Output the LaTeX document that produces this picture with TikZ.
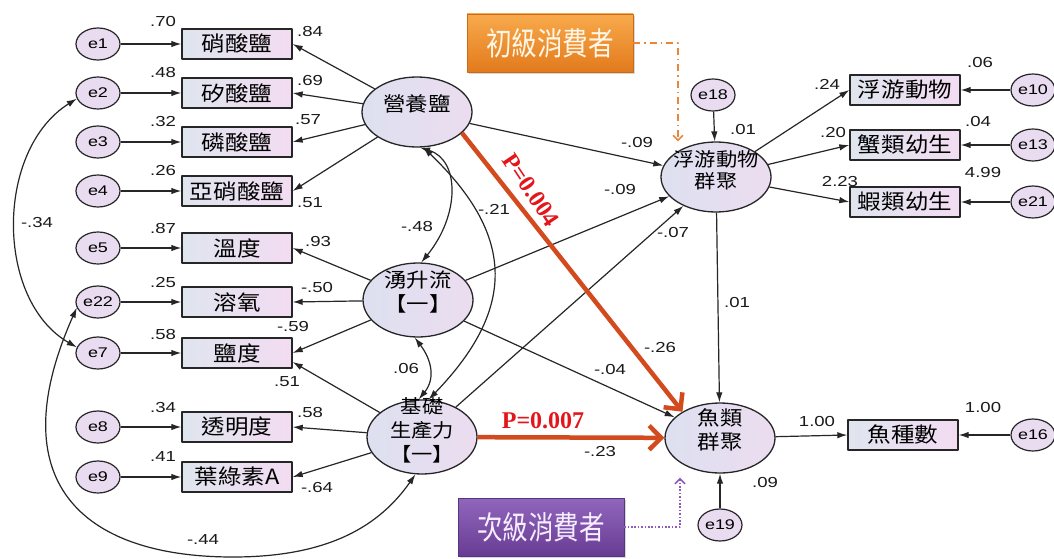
\documentclass[tikz,border=0pt]{standalone}
\usepackage{fontspec}
\setmainfont{Liberation Sans}[FakeStretch=1.28]
\newfontfamily\cjk{Noto Sans CJK TC}[FakeStretch=1.12]
\newfontfamily\cjkb{Noto Sans CJK TC}[FakeStretch=0.8]
\newfontfamily\pfont{Liberation Serif}
\usetikzlibrary{arrows.meta,shapes.geometric,shadows}
\definecolor{lineC}{HTML}{262626}
\definecolor{labC}{HTML}{1A1A1A}
\definecolor{errF}{HTML}{EADCF0}
\definecolor{boxL}{HTML}{DFE5EE}
\definecolor{boxR}{HTML}{F3DCF2}
\definecolor{latL}{HTML}{DDE0F0}
\definecolor{latR}{HTML}{ECDDF0}
\definecolor{sigC}{HTML}{D24A1E}
\definecolor{pC}{HTML}{E3161B}
\definecolor{orT}{HTML}{F8AA4C}
\definecolor{orB}{HTML}{E27A1C}
\definecolor{orD}{HTML}{C96A18}
\definecolor{orL}{HTML}{E8873A}
\definecolor{orTx}{HTML}{FFF6E6}
\definecolor{puT}{HTML}{9066BC}
\definecolor{puB}{HTML}{693C94}
\definecolor{puD}{HTML}{5A3480}
\definecolor{puL}{HTML}{8A5CC0}
\definecolor{puTx}{HTML}{F6EEFF}
\newcommand{\ctext}[1]{\smash{\makebox[0pt]{\begin{tabular}{@{}c@{}}#1\end{tabular}}}}
\begin{document}
\begin{tikzpicture}[x=1pt,y=-1pt,line join=round,
  err/.style={ellipse,draw=lineC,line width=1.2pt,fill=errF,minimum width=44pt,minimum height=32pt,inner sep=0pt,font=\fontsize{14}{14}\selectfont},
  obs/.style={rectangle,draw=lineC,line width=1.4pt,left color=boxL,right color=boxR,minimum width=110pt,minimum height=30pt,inner sep=0pt,font=\cjk\fontsize{21}{21}\selectfont},
  lat/.style={ellipse,draw=lineC,line width=1.3pt,left color=latL,right color=latR,minimum width=110pt,minimum height=70pt,inner sep=0pt,font=\cjk\fontsize{20}{23}\selectfont},
  arr/.style={draw=lineC,line width=1.2pt,-{Latex[length=10pt,width=6.5pt]}},
  cov/.style={draw=lineC,line width=1.2pt,{Latex[length=10pt,width=6.5pt]}-{Latex[length=10pt,width=6.5pt]}},
  lab/.style={font=\fontsize{14.5}{14.5}\selectfont,text=labC,inner sep=0pt},
  sig/.style={draw=sigC,line width=4.5pt,-{Straight Barb[length=12pt,width=24pt]}},
  ptext/.style={font=\pfont\bfseries\fontsize{24}{24}\selectfont,text=pC,inner sep=0pt},
  cons/.style={rectangle,minimum width=166pt,minimum height=58pt,inner sep=0pt,font=\cjkb\fontsize{32}{32}\selectfont,drop shadow={opacity=0.3,shadow xshift=2pt,shadow yshift=-2pt}},
  odash/.style={draw=orL,line width=1.5pt,dash pattern=on 7pt off 4pt on 1.5pt off 4pt,-{Straight Barb[length=5pt,width=10pt]}},
  pdot/.style={draw=puL,line width=1.6pt,dash pattern=on 1.6pt off 1.8pt,-{Straight Barb[length=5pt,width=10pt]}}
]
\fill[white,use as bounding box] (0,0) rectangle (1054,559);

% error terms left
\node[err] (e1) at (98,44) {e1};
\node[err] (e2) at (98,93) {e2};
\node[err] (e3) at (98,142) {e3};
\node[err] (e4) at (98,191) {e4};
\node[err] (e5) at (98,248) {e5};
\node[err] (e22) at (98,302) {e22};
\node[err] (e7) at (98,353) {e7};
\node[err] (e8) at (98,427) {e8};
\node[err] (e9) at (98,477) {e9};

% observed boxes left
\node[obs] (b1) at (237,44) {硝酸鹽};
\node[obs] (b2) at (237,93) {矽酸鹽};
\node[obs] (b3) at (237,142) {磷酸鹽};
\node[obs] (b4) at (237,191) {亞硝酸鹽};
\node[obs] (b5) at (237,248) {溫度};
\node[obs] (b6) at (237,302) {溶氧};
\node[obs] (b7) at (237,353) {鹽度};
\node[obs] (b8) at (237,427) {透明度};
\node[obs] (b9) at (237,477) {葉綠素A};

% latent
\node[lat] (yy) at (417,112) {\ctext{營養鹽}};
\node[lat,minimum height=74pt] (up) at (418,300) {\ctext{湧升流\\【一】}};
\node[lat,minimum height=74pt,font=\cjk\fontsize{19}{24}\selectfont] (pp) at (422,437) {\ctext{基礎\\生產力\\【一】}};
\node[lat,font=\cjk\fontsize{19}{21}\selectfont] (zoo) at (716,177) {\ctext{浮游動物\\群聚}};
\node[lat] (fish) at (720,438) {\ctext{魚類\\群聚}};
\node[err] (e18) at (713,95) {e18};
\node[err] (e19) at (720,525) {e19};

% right boxes
\node[obs] (r1) at (905,90) {浮游動物};
\node[obs] (r2) at (905,145) {蟹類幼生};
\node[obs] (r3) at (905,202) {蝦類幼生};
\node[obs] (fs) at (903,435) {魚種數};
\node[err] (e10) at (1033,90) {e10};
\node[err] (e13) at (1033,145) {e13};
\node[err] (e21) at (1033,202) {e21};
\node[err] (e16) at (1033,435) {e16};

% consumer boxes
\node[cons,draw=orD,top color=orT,bottom color=orB,text=orTx] (ob) at (550,43) {初級消費者};
\node[cons,draw=puD,top color=puT,bottom color=puB,text=puTx] (pb) at (541,527) {次級消費者};

% error arrows
\foreach \e/\b in {e1/b1,e2/b2,e3/b3,e4/b4,e5/b5,e22/b6,e7/b7,e8/b8,e9/b9,e10/r1,e13/r2,e21/r3,e16/fs}
  \draw[arr] (\e) -- (\b);
\draw[arr] (e18) -- (zoo);
\draw[arr] (e19) -- (fish);

% loadings
\draw[arr] (yy) -- (b1.east);
\draw[arr] (yy) -- (b2.east);
\draw[arr] (yy) -- (b3.east);
\draw[arr] (yy) -- (b4.east);
\draw[arr] (up) -- (b5.east);
\draw[arr] (up) -- (b6.east);
\draw[arr] (up) -- (b7.east);
\draw[arr] (pp) -- ([yshift=-9pt]b7.east);
\draw[arr] (pp) -- (b8.east);
\draw[arr] (pp) -- (b9.east);
\draw[arr] (zoo) -- (r1.west);
\draw[arr] (zoo) -- (r2.west);
\draw[arr] (zoo) -- (r3.west);
\draw[arr] (fish) -- (fs.west);

% structural paths
\draw[arr] (yy) -- (zoo);
\draw[arr] (up) -- (zoo);
\draw[arr] (pp) -- (zoo);
\draw[arr] (up) -- (fish);
\draw[arr] (zoo) -- (fish);

% covariances
\draw[cov] (yy.-85) .. controls (460,160) and (460,215) .. (up.85);
\draw[cov] (yy.-80) .. controls (517,237) and (515,310) .. (pp.80);
\draw[cov] (up.-95) .. controls (431,359) and (436,378) .. (pp.95);
\draw[cov] (e2.195) .. controls (-5,150) and (-5,300) .. (e7.165);
\coordinate (low) at (233,557);
\draw[cov] (e22.195) .. controls (0,480) and (80,557) .. (low) .. controls (330,557) and (380,525) .. (pp.-100);

% significant paths
\draw[sig] (yy.-25) -- (fish.145);
\draw[sig] (pp) -- (fish);
\node[ptext,rotate=-56] (p1) at (531,190) {P=0.004};
\node[ptext] (p2) at (543,421) {P=0.007};

% consumer connectors
\coordinate (oc) at (678,43);
\draw[odash] (ob.east) -- (oc) -- (oc |- zoo.north);
\coordinate (pc) at (680,527);
\draw[pdot,shorten >=4pt] (pb.east) -- (pc) -- (pc |- fish.south);

% labels left
\node[lab] (l1) at (163,22) {.70};
\node[lab] (l2) at (163,73) {.48};
\node[lab] (l3) at (163,122) {.32};
\node[lab] (l4) at (163,171) {.26};
\node[lab] (l5) at (163,229) {.87};
\node[lab] (l6) at (163,283) {.25};
\node[lab] (l7) at (163,335) {.58};
\node[lab] (l8) at (163,408) {.34};
\node[lab] (l9) at (163,457) {.41};
\node[lab] (m1) at (310,32) {.84};
\node[lab] (m2) at (310,81) {.69};
\node[lab] (m3) at (308,120) {.57};
\node[lab] (m4) at (310,203) {.51};
\node[lab] (m5) at (318,242) {.93};
\node[lab] (m6) at (317,288) {-.50};
\node[lab] (m7) at (293,327) {-.59};
\node[lab] (m8) at (287,382) {.51};
\node[lab] (m9) at (310,413) {.58};
\node[lab] (m10) at (317,488) {-.64};
\node[lab] (c1) at (37,223) {-.34};
\node[lab] (c2) at (203,540) {-.44};
\node[lab] (c3) at (417,227) {-.48};
\node[lab] (c4) at (494,209) {-.21};
\node[lab] (c5) at (406,369) {.06};
% labels middle/right
\node[lab] (s1) at (637,143) {-.09};
\node[lab] (s2) at (620,190) {-.09};
\node[lab] (s3) at (673,233) {-.07};
\node[lab] (s4) at (743,130) {.01};
\node[lab] (s5) at (610,370) {-.04};
\node[lab] (s6) at (660,348) {-.26};
\node[lab] (s7) at (600,452) {-.23};
\node[lab] (s8) at (737,303) {.01};
\node[lab] (s9) at (817,422) {1.00};
\node[lab] (s10) at (983,408) {1.00};
\node[lab] (s11) at (765,483) {.09};
\node[lab] (s12) at (827,84) {.24};
\node[lab] (s13) at (833,133) {.20};
\node[lab] (s14) at (840,182) {2.23};
\node[lab] (s15) at (980,63) {.06};
\node[lab] (s16) at (978,122) {.04};
\node[lab] (s17) at (983,173) {4.99};
\end{tikzpicture}
\end{document}
